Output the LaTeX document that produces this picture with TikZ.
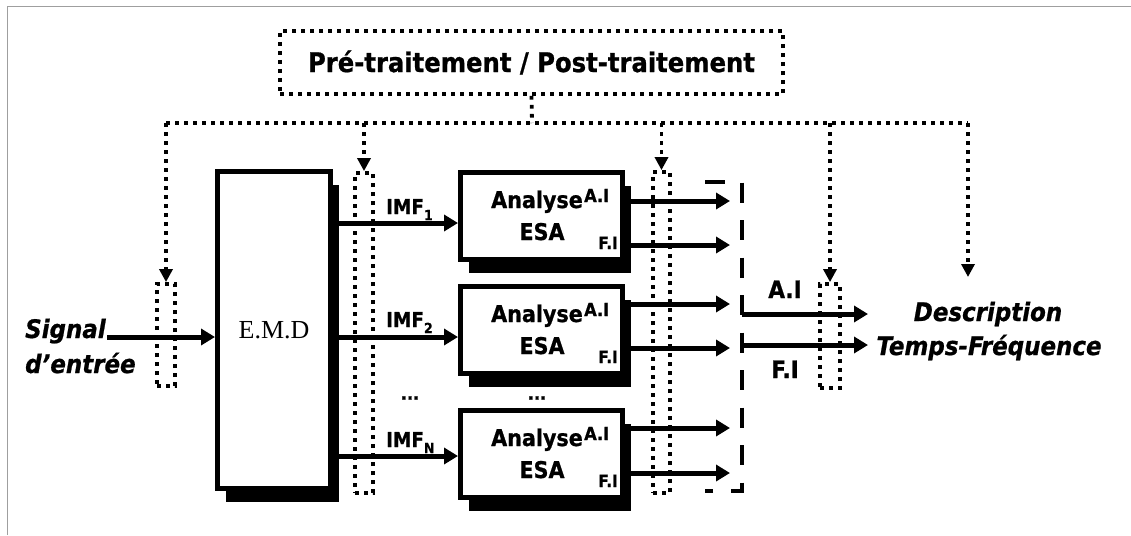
\documentclass[tikz,border=0pt]{standalone}
\usepackage{fontspec}
\newfontfamily\tah{DejaVu Sans Condensed}[BoldFeatures={FakeBold=0.8},BoldItalicFeatures={FakeBold=0.8}]
\newfontfamily\tms{Liberation Serif}
\usetikzlibrary{arrows.meta,calc,shadows}
\newcommand{\fs}[1]{\fontsize{#1}{#1}\selectfont}
\begin{document}
\begin{tikzpicture}[x=1pt,y=-1pt,
  dotline/.style={line width=3.8pt, dash pattern=on 3.8pt off 5.2pt},
  dotarr/.style={dotline, -{Triangle[length=13pt,width=13pt]}},
  dotrect/.style={draw, dotline, inner sep=0pt},
  dashline/.style={line width=4.5pt, dash pattern=on 20pt off 17.5pt},
  arr/.style={line width=5pt, -{Triangle[length=14pt,width=16pt]}},
  blk/.style={draw, line width=5pt, fill=white, inner sep=0pt,
    general shadow={fill=black, shadow xshift=8pt, shadow yshift=-13pt}},
  lbl/.style={inner sep=0pt, font=\tah\bfseries},
  ilbl/.style={inner sep=0pt, font=\tah\bfseries\itshape\fs{25.5}},
]
\useasboundingbox (0,0) rectangle (1131,535);
\draw[gray!75, line width=1.4pt] (7.5,535) -- (7.5,6.5) -- (1131,6.5);

% top box
\node[dotrect, minimum width=503pt, minimum height=63pt, font=\tah\bfseries\fs{27}] (pp) at (531.5,62.5) {Pré-traitement / Post-traitement};

% small dotted rectangles
\node[dotrect, minimum width=18pt, minimum height=102pt] (r0) at (166,335) {};
\node[dotrect, minimum width=18pt, minimum height=320pt] (r1) at (364,333) {};
\node[dotrect, minimum width=17pt, minimum height=321pt] (r2) at (661.5,332.5) {};
\node[dotrect, minimum width=20pt, minimum height=104pt] (r3) at (830,336) {};

% bus
\coordinate (bus) at (532,123);
\coordinate (dtip) at (968,277);
\draw[dotline] (pp.south) -- (bus);
\draw[dotline] (r0.north |- bus) -- (dtip |- bus);
\draw[dotarr] (r0.north |- bus) -- (r0.north);
\draw[dotarr] (r1.north |- bus) -- (r1.north);
\draw[dotarr] (r2.north |- bus) -- (r2.north);
\draw[dotarr] (r3.north |- bus) -- (r3.north);
\draw[dotarr] (dtip |- bus) -- (dtip);

% EMD
\node[blk, minimum width=113pt, minimum height=317pt, font=\tms\fs{26}] (emd) at (274,330) {E.M.D};

% signal
\node[ilbl, anchor=base west] (sig1) at (25,338) {Signal};
\node[ilbl, anchor=base west] (sig2) at (25,373) {d’entrée};
\coordinate (sigin) at (107,337);
\draw[arr] (sigin) -- (sigin -| emd.west);

% analyse boxes
\foreach \n/\t in {1/170,2/284,3/408}{
  \node[blk, minimum width=162pt, minimum height=87pt] (b\n) at (541.5,\t+46) {};
  \node[lbl, font=\tah\bfseries\fs{23}, anchor=base east] (an\n) at (583,\t+38) {Analyse};
  \node[lbl, font=\tah\bfseries\fs{18}, anchor=base west] (ai\n) at (584,\t+32) {A.I};
  \node[lbl, font=\tah\bfseries\fs{23}, anchor=base] (es\n) at (542,\t+70) {ESA};
  \node[lbl, font=\tah\bfseries\fs{17}, anchor=base east] (fi\n) at (618,\t+79) {F.I};
}

% IMF arrows and labels
\foreach \n/\y/\b/\s in {1/223/214/1, 2/337/327/2, 3/456/447/N}{
  \coordinate (in\n) at (b\n.west |- {(0,\y)});
  \draw[arr] (emd.east |- in\n) -- (in\n);
  \node[lbl, font=\tah\bfseries\fs{20.5}, anchor=base west] (imf\n) at (386,\b) {IMF\raisebox{-0.3em}{\fs{14}\s}};
}

% dots
\node[lbl, font=\tah\bfseries\fs{18}] (d1) at (410,398) {...};
\node[lbl, font=\tah\bfseries\fs{18}] (d2) at (537,398) {...};

% output arrows
\foreach \n/\ya/\yf in {1/201/245, 2/304/348, 3/428/473}{
  \coordinate (oa\n) at (730,\ya);
  \coordinate (of\n) at (730,\yf);
  \draw[arr] (b\n.east |- oa\n) -- (oa\n);
  \draw[arr] (b\n.east |- of\n) -- (of\n);
}

% dashed bracket
\coordinate (brt) at (742,182);
\coordinate (brb) at (742,491);
\draw[dashline] ($(brt)+(-37,0)$) -- (brt) -- (brb) -- ($(brb)+(-37,0)$);

% combined outputs
\coordinate (ca) at (868,314);
\coordinate (cf) at (868,345);
\draw[arr] (brt |- ca) -- (ca);
\draw[arr] (brt |- cf) -- (cf);
\node[lbl, font=\tah\bfseries\fs{24}, anchor=base] (lai) at (785,298) {A.I};
\node[lbl, font=\tah\bfseries\fs{24}, anchor=base] (lfi) at (785,378) {F.I};

% description
\node[ilbl, anchor=base] (desc1) at (988,321) {Description};
\node[ilbl, anchor=base] (desc2) at (989,355) {Temps-Fréquence};
\end{tikzpicture}
\end{document}
